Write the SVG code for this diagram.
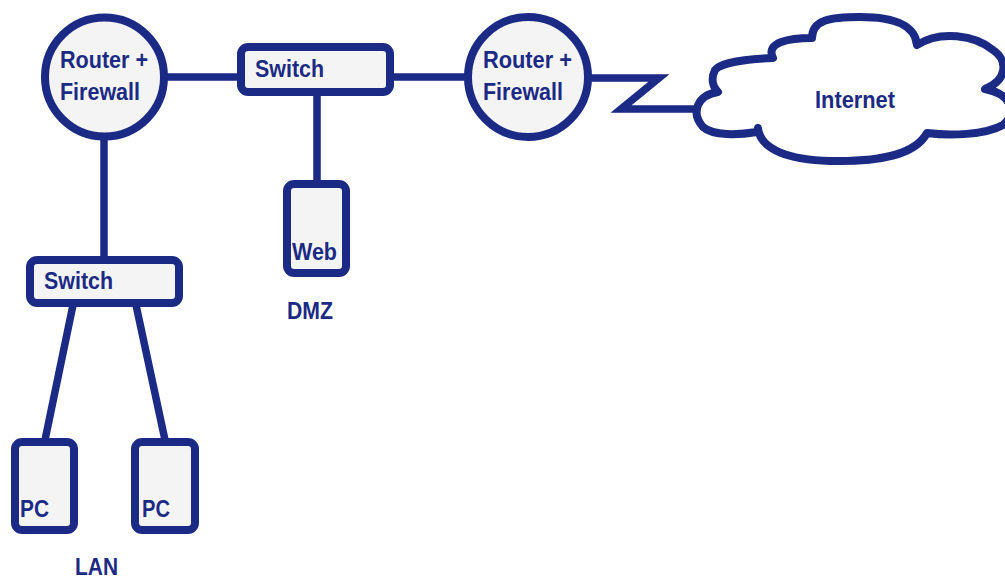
<svg xmlns="http://www.w3.org/2000/svg" width="1005" height="580" viewBox="0 0 1005 580">
<style>
.n{fill:#f4f4f4;stroke:#1b2a84;stroke-width:8}
.c{fill:none;stroke:#1b2a84;stroke-width:7.5}
.t{font-family:"Liberation Sans",Arial,sans-serif;font-weight:bold;font-size:24.5px;fill:#1b2a84}
</style>
<rect width="1005" height="580" fill="#ffffff"/>
<g id="connectors">
<line class="c" x1="166" y1="77" x2="239" y2="77"/>
<line class="c" x1="392" y1="77" x2="468" y2="77"/>
<line class="c" x1="317" y1="94" x2="317" y2="182"/>
<line class="c" x1="104" y1="138" x2="104" y2="258"/>
<line class="c" x1="73" y1="305" x2="45" y2="440"/>
<line class="c" x1="136" y1="305" x2="165" y2="440"/>
<polyline class="c" points="586,78 659,78 621,109 696,109" stroke-linejoin="miter"/>
</g>
<g id="router1">
<circle class="n" cx="104.5" cy="77" r="59.5"/>
<text class="t" x="60" y="68" textLength="88" lengthAdjust="spacingAndGlyphs">Router +</text>
<text class="t" x="60" y="100" textLength="80" lengthAdjust="spacingAndGlyphs">Firewall</text>
</g>
<g id="switch-dmz">
<rect class="n" x="241" y="47" width="149" height="45" rx="7"/>
<text class="t" x="255" y="77" textLength="69" lengthAdjust="spacingAndGlyphs">Switch</text>
</g>
<g id="router2">
<circle class="n" cx="528" cy="77" r="60"/>
<text class="t" x="483" y="68" textLength="89" lengthAdjust="spacingAndGlyphs">Router +</text>
<text class="t" x="483" y="100" textLength="80" lengthAdjust="spacingAndGlyphs">Firewall</text>
</g>
<g id="internet">
<path d="M718,92 C698,95 690,112 703,127 C713,136 738,135 757,132 L758,128 C760,150 790,160 830,161 C880,162 915,155 927,133 C950,136 985,135 1003,125 C1015,115 1015,95 985,89 C1008,80 1008,60 993,50 C975,35 940,30 917,45 C915,25 895,17 860,17 C830,17 812,20 812,38 C790,38 765,42 773,58 C745,59 720,63 715,70 C710,80 714,88 718,92 Z" fill="#ffffff" stroke="#1b2a84" stroke-width="8" stroke-linejoin="round"/>
<text class="t" x="815" y="108" textLength="80" lengthAdjust="spacingAndGlyphs">Internet</text>
</g>
<g id="web">
<rect class="n" x="287" y="184" width="59" height="89" rx="7"/>
<text class="t" x="292" y="260" textLength="45" lengthAdjust="spacingAndGlyphs">Web</text>
</g>
<g id="dmz-label">
<text class="t" x="287" y="319" textLength="46" lengthAdjust="spacingAndGlyphs">DMZ</text>
</g>
<g id="switch-lan">
<rect class="n" x="30" y="260" width="149" height="43" rx="7"/>
<text class="t" x="44" y="289" textLength="69" lengthAdjust="spacingAndGlyphs">Switch</text>
</g>
<g id="pc1">
<rect class="n" x="15" y="442" width="59" height="88" rx="7"/>
<text class="t" x="20" y="517" textLength="29" lengthAdjust="spacingAndGlyphs">PC</text>
</g>
<g id="pc2">
<rect class="n" x="135" y="442" width="60" height="88" rx="7"/>
<text class="t" x="142" y="517" textLength="28" lengthAdjust="spacingAndGlyphs">PC</text>
</g>
<g id="lan-label">
<text class="t" x="75" y="575" textLength="43" lengthAdjust="spacingAndGlyphs">LAN</text>
</g>
</svg>
